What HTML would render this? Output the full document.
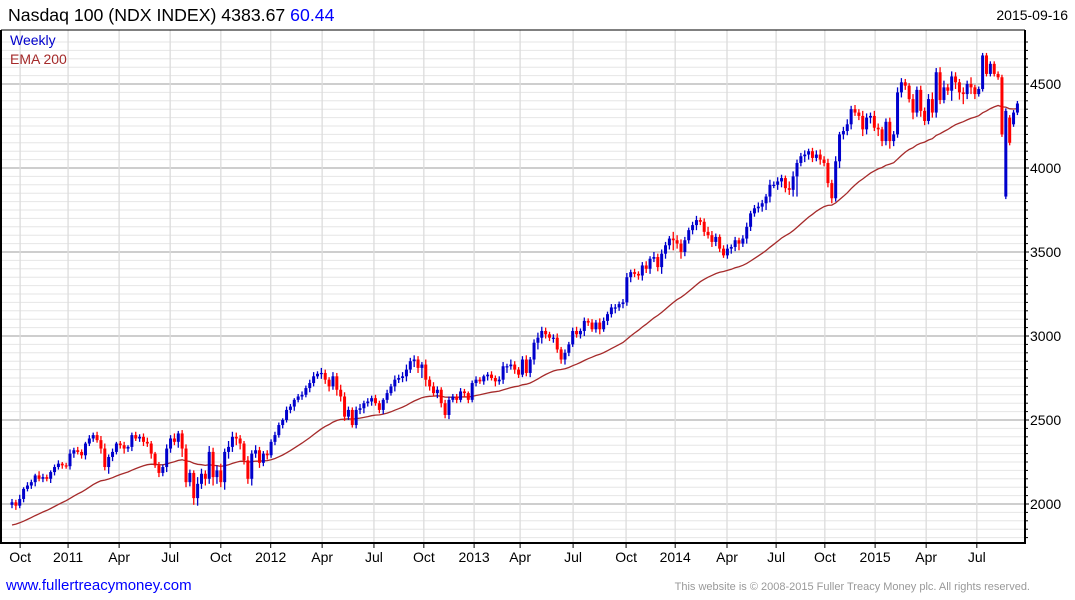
<!DOCTYPE html>
<html><head><meta charset="utf-8"><style>
html,body{margin:0;padding:0;background:#fff;width:1075px;height:600px;overflow:hidden}
svg text{font-family:"Liberation Sans",Arial,sans-serif}
</style></head><body>
<svg id="chart" width="1075" height="600" xmlns="http://www.w3.org/2000/svg">
<rect x="0" y="0" width="1075" height="600" fill="#fff"/>
<g id="grid"></g>
<g id="ema"></g>
<g id="candles"></g>
<g id="axes"></g>
<text x="8" y="21" font-size="17.7" fill="#000">Nasdaq 100 (NDX INDEX) 4383.67 <tspan fill="#0000ff">60.44</tspan></text>
<text x="1068" y="20" font-size="14" fill="#000" text-anchor="end">2015-09-16</text>
<text x="10" y="45" font-size="14" fill="#0000cc">Weekly</text>
<text x="10" y="64" font-size="14" fill="#a52a2a">EMA 200</text>
<text x="6" y="590" font-size="15" fill="#0000ff">www.fullertreacymoney.com</text>
<text x="1030" y="590" font-size="11" fill="#999" text-anchor="end">This website is © 2008-2015 Fuller Treacy Money plc. All rights reserved.</text>
</svg>
<script>
const closes2010 = [2010,1990,2030,2090,2110,2130,2170,2150,2160,2150,2190,2220,2240,2230,2225];
const closes2011 = [2300,2320,2310,2290,2360,2390,2410,2380,2330,2220,2280,2310,2360,2350,2330,2340,2410,2390,2400,2370,2360,2300,2230,2185,2220,2330,2390,2370,2420,2330,2130,2185,2035,2120,2180,2150,2310,2160,2200,2130,2310,2340,2400,2390,2360,2260,2150,2300,2320,2245,2300,2290];
const closes2012 = [2370,2410,2470,2500,2560,2580,2620,2640,2650,2690,2720,2760,2775,2780,2740,2700,2760,2680,2640,2520,2560,2470,2560,2570,2600,2610,2630,2600,2560,2620,2660,2700,2740,2750,2760,2800,2850,2860,2810,2830,2740,2700,2660,2680,2600,2530,2620,2640,2620,2670,2660,2620];
const closes2013 = [2720,2740,2730,2760,2770,2750,2730,2740,2820,2820,2830,2800,2770,2860,2780,2860,2960,2990,3030,3010,2990,2990,2920,2860,2900,2950,3030,3010,3030,3090,3080,3040,3080,3040,3090,3130,3170,3170,3190,3200,3350,3380,3370,3360,3420,3400,3460,3470,3410,3490,3540,3580];
const closes2014 = [3570,3550,3500,3570,3630,3660,3690,3680,3620,3600,3560,3590,3520,3480,3520,3530,3570,3550,3580,3650,3730,3760,3770,3790,3830,3900,3900,3920,3940,3880,3870,3950,4030,4070,4080,4100,4060,4080,4050,4030,3910,3820,4040,4200,4220,4260,4350,4330,4310,4230,4300,4310];
const closes2015 = [4240,4230,4160,4275,4160,4200,4450,4510,4490,4410,4330,4465,4340,4280,4410,4330,4570,4405,4480,4460,4545,4510,4450,4440,4500,4480,4440,4470,4670,4560,4620,4560,4540,4200,4340,4150,4330,4384];
const closes = [].concat(closes2010,closes2011,closes2012,closes2013,closes2014,closes2015);
// explicit opens where they differ from previous close (index -> open)
const openOverrides = {257:3830, 258:4300, 259:4260};
const wickUp = [20,15,25,10,20,15,10,25,20,15,10,15,20,10,15,
 25,15,20,15,10,20,15,20,25,30,15,20,10,15,20,10,15,20,15,20,25,15,10,20,15,25,20,30,15,20,25,20,15,40,30,20,35,25,30,40,20,35,30,25,20,15,25,20,30,20,15,20,
 15,20,15,10,20,15,10,15,20,15,20,25,15,30,20,15,25,20,30,25,20,15,20,25,15,20,15,20,15,10,20,15,25,20,25,30,20,25,20,15,30,20,25,20,15,20,20,15,
 15,20,15,10,15,20,15,10,15,20,15,20,25,15,30,20,15,20,25,15,20,30,25,20,15,20,25,15,20,15,20,25,15,20,15,20,15,25,20,15,20,20,15,20,25,15,20,15,
 20,25,15,30,20,25,20,15,40,30,25,20,15,20,25,15,20,30,25,20,15,20,25,15,20,15,20,25,15,20,25,20,15,30,20,25,20,15,40,30,20,20,25,15,20,25,30,20,
 25,20,30,15,25,30,20,25,20,30,25,20,30,25,15,20,25,20,30,25,20,15,30,20,25,20,30,40,25,30,40,20,30,25,20,30,20,40];
const wickDn = [20,25,15,20,15,20,25,15,20,15,25,20,15,20,15,
 20,25,15,20,25,15,20,15,30,20,40,25,15,20,30,20,25,15,20,25,20,30,15,25,20,30,25,20,35,50,30,25,40,45,30,40,30,50,40,30,45,40,30,40,35,25,30,40,25,30,20,25,
 15,20,15,20,15,20,25,15,20,15,25,20,15,30,25,30,20,35,30,25,20,15,20,25,30,20,25,15,20,25,20,15,30,20,25,30,20,35,30,60,40,25,20,30,25,20,25,15,
 20,15,25,20,15,20,15,20,25,15,30,20,25,40,20,25,20,15,20,25,30,40,35,25,20,30,20,25,30,20,15,20,25,30,20,15,20,30,15,25,20,35,20,25,20,30,20,25,
 30,25,30,20,25,40,30,25,60,30,40,25,20,25,30,20,25,20,30,25,20,15,20,30,25,40,20,30,25,20,25,30,40,35,20,30,35,25,30,40,120,20,35,30,25,20,30,20,
 25,30,20,40,30,25,30,20,25,40,30,35,20,40,30,25,45,30,20,30,25,20,40,25,35,25,20,30,30,25,20,25,60,40,43,60,30,40,30];
const yTicks = [2000,2500,3000,3500,4000,4500];
const xTickLabels = ["Oct","2011","Apr","Jul","Oct","2012","Apr","Jul","Oct","2013","Apr","Jul","Oct","2014","Apr","Jul","Oct","2015","Apr","Jul"];
const xTickIdx = [2.1,14.5,27.7,40.9,54,66.9,80.2,93.6,106.5,119.5,131.4,145.1,158.8,171.5,184.9,197.6,210.2,223.2,236.4,249.5];
const emaSeed = 1875;
const emaPeriod = 40;

const NS="http://www.w3.org/2000/svg";
const L=1,R=1025,T=30,B=543;
const yS=v=>504-(v-2000)*0.168;
const xS=i=>12+i*3.867;
function mk(tag,attrs,parent){const e=document.createElementNS(NS,tag);for(const k in attrs)e.setAttribute(k,attrs[k]);parent.appendChild(e);return e;}
const grid=document.getElementById('grid'),axes=document.getElementById('axes'),cg=document.getElementById('candles'),eg=document.getElementById('ema');
for(let v=1800;v<=4750;v+=50){const y=yS(v);if(y<T||y>B)continue;
 const major=v%500===0;
 const ln=mk('line',{x1:L,x2:R,y1:y,y2:y,stroke:major?'#bdbdbd':'#e6e6e6','stroke-width':major?1.5:1},grid);
 
 
 const tk=mk('line',{x1:R,x2:R+(major?4:3),y1:y,y2:y,stroke:'#000'},axes);
 
 
}
yTicks.forEach(v=>{const t=mk('text',{x:R+5,y:yS(v)+5,'font-size':14,fill:'#000'},axes);t.textContent=v;
 
 });
xTickIdx.forEach((ix,k)=>{const x=xS(ix);
 const g=mk('line',{x1:x,x2:x,y1:T,y2:B,stroke:'#dcdcdc','stroke-width':1.3},grid);
 
 
 const tk=mk('line',{x1:x,x2:x,y1:B,y2:B+5,stroke:'#000'},axes);
 
 
 const t=mk('text',{x:x,y:562,'font-size':14,'text-anchor':'middle',fill:'#000'},axes);t.textContent=xTickLabels[k];
 
 });
const fr=mk('path',{d:`M${L} ${T}V${B}H${R}V${T}`,fill:'none',stroke:'#000','stroke-width':2},axes);


const topl=mk('line',{x1:L,x2:R,y1:T,y2:T,stroke:'#000','stroke-width':1},axes);


const a=2/(emaPeriod+1);let e=emaSeed,pts=[];
closes.forEach((c,i)=>{if(i>0)e=e+a*(c-e);pts.push(xS(i).toFixed(1)+','+yS(e).toFixed(1));});
const pl=mk('polyline',{points:pts.join(' '),fill:'none',stroke:'#a52a2a','stroke-width':1.3},eg);


closes.forEach((c,i)=>{
 const o=(openOverrides[i]!==undefined)?openOverrides[i]:(i>0?closes[i-1]:c-15);
 const up=c>=o,col=up?'#0000cc':'#ff0000',x=xS(i);
 const hi=Math.max(o,c)+(wickUp[i]||15),lo=Math.min(o,c)-(wickDn[i]||15);
 const w=mk('line',{x1:x,x2:x,y1:yS(hi),y2:yS(lo),stroke:col,'stroke-width':1.3},cg);
 
 
 const yt=yS(Math.max(o,c)),yb=yS(Math.min(o,c));
 const r=mk('rect',{x:x-1.5,y:yt,width:3,height:Math.max(1.2,yb-yt),fill:col},cg);
 
 
});
</script>
</body></html>
